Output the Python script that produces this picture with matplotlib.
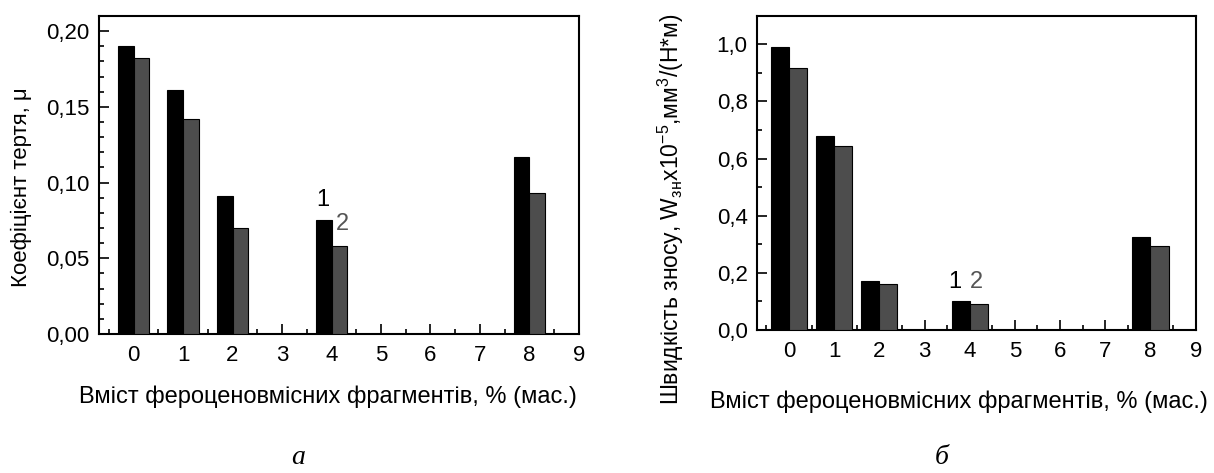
import numpy as np
import matplotlib
matplotlib.use("Agg")
import matplotlib.pyplot as plt
from matplotlib.ticker import MultipleLocator, FuncFormatter

plt.rcParams['font.family'] = ['Liberation Sans', 'DejaVu Sans']
plt.rcParams['mathtext.fontset'] = 'custom'
plt.rcParams['mathtext.rm'] = 'Liberation Sans'
plt.rcParams['mathtext.it'] = 'Liberation Sans:italic'

# Data (content of ferrocene fragments, % mass)
content = np.array([0, 1, 2, 4, 8])
# (a) friction coefficient
friction_1 = np.array([0.190, 0.161, 0.091, 0.075, 0.117])
friction_2 = np.array([0.182, 0.142, 0.070, 0.058, 0.093])
# (b) wear rate
wear_1 = np.array([0.99, 0.678, 0.171, 0.102, 0.326])
wear_2 = np.array([0.916, 0.644, 0.162, 0.092, 0.293])

xlabel = 'Вміст фероценовмісних фрагментів, % (мас.)'
black = '#000000'
gray = '#4d4d4d'

fig = plt.figure(figsize=(12.14, 4.73), dpi=100)
ax1 = fig.add_axes([0.0815, 0.2939, 0.3954, 0.6723])
ax2 = fig.add_axes([0.6238, 0.3023, 0.3611, 0.6645])


def style_axes(ax, ymax, ymajor, yminor, fmt):
    ax.set_xlim(-0.7, 9)
    ax.set_ylim(0, ymax)
    ax.xaxis.set_major_locator(MultipleLocator(1))
    ax.xaxis.set_minor_locator(MultipleLocator(0.5))
    ax.yaxis.set_major_locator(MultipleLocator(ymajor))
    ax.yaxis.set_minor_locator(MultipleLocator(yminor))
    ax.yaxis.set_major_formatter(FuncFormatter(lambda v, p: (fmt % v).replace('.', ',')))
    ax.tick_params(which='both', direction='in', top=False, right=False, width=1.2)
    ax.tick_params(which='major', length=7, labelsize=16)
    ax.tick_params(axis='x', which='major', pad=8)
    ax.tick_params(axis='y', which='major', pad=7)
    ax.tick_params(which='minor', length=3.5)
    for s in ax.spines.values():
        s.set_linewidth(1.5)


# (a)
w = 0.32
ax1.bar(content - w / 2, friction_1, w, color=black, edgecolor='black', linewidth=0.8, zorder=3)
ax1.bar(content + w / 2, friction_2, w, color=gray, edgecolor='black', linewidth=0.8, zorder=3)
style_axes(ax1, 0.21, 0.05, 0.01, '%.2f')
ax1.text(3.83, 0.0886, '1', fontsize=17, color='black', ha='center', va='center')
ax1.text(4.23, 0.0728, '2', fontsize=17, color='#555555', ha='center', va='center')

# (b)
w = 0.4
ax2.bar(content - w / 2, wear_1, w, color=black, edgecolor='black', linewidth=0.8, zorder=3)
ax2.bar(content + w / 2, wear_2, w, color=gray, edgecolor='black', linewidth=0.8, zorder=3)
style_axes(ax2, 1.1, 0.2, 0.1, '%.1f')
ax2.text(3.67, 0.169, '1', fontsize=17, color='black', ha='center', va='center')
ax2.text(4.14, 0.169, '2', fontsize=17, color='#555555', ha='center', va='center')

# axis labels
fig.text(0.0173, 0.6047, 'Коефіцієнт тертя, μ', rotation=90, ha='center', va='center', fontsize=16)
fig.text(0.5524, 0.558, r'Швидкість зносу, W$_{\mathrm{зн}}$x10$^{-5}$,мм$^{3}$/(Н*м)',
         rotation=90, ha='center', va='center', fontsize=16.5)
fig.text(0.270, 0.161, xlabel, ha='center', va='center', fontsize=17)
fig.text(0.790, 0.150, xlabel, ha='center', va='center', fontsize=17)

# captions
fig.text(0.2455, 0.006, 'а', ha='center', va='bottom', fontsize=20,
         family=['Liberation Serif', 'DejaVu Serif'], style='italic')
fig.text(0.7755, 0.006, 'б', ha='center', va='bottom', fontsize=20,
         family=['Liberation Serif', 'DejaVu Serif'], style='italic')

fig.savefig('out.png', dpi=100)
